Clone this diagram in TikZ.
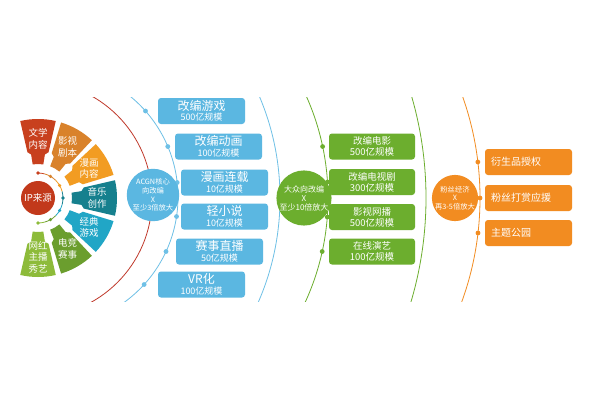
\documentclass[tikz,border=0pt]{standalone}
\usepackage{fontspec}
\setmainfont{Noto Sans CJK SC}
\usetikzlibrary{calc}
\definecolor{ipred}{HTML}{C2391B}
\definecolor{pa}{HTML}{C8401E}
\definecolor{pb}{HTML}{D9822B}
\definecolor{pc}{HTML}{F29C22}
\definecolor{pd}{HTML}{16808E}
\definecolor{pe}{HTML}{21A6C6}
\definecolor{pf}{HTML}{6B9E2E}
\definecolor{pg}{HTML}{8DBB3A}
\definecolor{bblue}{HTML}{5BB7E1}
\definecolor{lblue}{HTML}{6EC0E6}
\definecolor{bgreen}{HTML}{6CAE2E}
\definecolor{borange}{HTML}{F28C21}
\definecolor{lred}{HTML}{C0392B}
\begin{document}
\begin{tikzpicture}[x=1pt,y=-1pt,
  boxbase/.style={rounded corners=3pt, minimum width=87pt, minimum height=26pt, inner sep=0pt, text=white, align=center},
  bluebox/.style={boxbase, fill=bblue},
  greenbox/.style={boxbase, fill=bgreen, minimum width=86pt},
  orangebox/.style={boxbase, fill=borange, text width=75pt, align=left, inner xsep=6pt,
    font=\fontsize{10}{12}\selectfont},
  hub/.style={circle, inner sep=0pt, text=white, align=center},
  petaltext/.style={text=white, align=center, font=\fontsize{9.5}{11.5}\selectfont},
  ring/.style={line width=0.8pt}]
\useasboundingbox (0,0) rectangle (597,400);
\fill[white] (0,0) rectangle (597,400);
% rings
\begin{scope}
\clip (60,97) rectangle (597,301);
\draw[ring, lred] (34,199) circle[radius=118];
\draw[ring, lblue] (48,197) circle[radius=130];
\draw[ring, lblue] (20,198) circle[radius=260];
\draw[ring, bgreen] (79,198) circle[radius=249];
\draw[ring, bgreen] (62,198) circle[radius=364];
\draw[ring, borange] (177,198) circle[radius=303];
\end{scope}
% dots on the rings
\newcommand\ringdot[5]{\fill[#5] ({#1+#3*sqrt(1-((#4-#2)/#3)^2)},#4) circle[radius=2.4];}
\foreach \yy in {111,146.5,182.5,216.5,251.5,284.5} {\ringdot{48}{197}{130}{\yy}{lblue}}
\foreach \yy in {146.5,182,217,251.5} {\ringdot{79}{198}{249}{\yy}{bgreen}}
\foreach \yy in {162,198,233} {\ringdot{177}{198}{303}{\yy}{borange}}
% petals
\coordinate (ipc) at (38,198);
\foreach \a/\c/\t [count=\i] in {-90/pa/{文学\\内容}, -60/pb/{影视\\剧本}, -30/pc/{漫画\\内容}, 0/pd/{音乐\\创作}, 30/pe/{经典\\游戏}, 60/pf/{电竞\\赛事}, 90/pg/{网红\\主播\\秀艺}} {
  \fill[\c] ($(ipc)+({\a-9}:34)$) -- ($(ipc)+({\a-9}:44)$) -- ($(ipc)+({\a-13}:47)$) -- ($(ipc)+({\a-13}:79)$)
     arc[start angle={\a-13}, end angle={\a+13}, radius=79] -- ($(ipc)+({\a+13}:47)$) -- ($(ipc)+({\a+9}:44)$)
     -- ($(ipc)+({\a+9}:34)$) arc[start angle={\a+9}, end angle={\a-9}, radius=34] -- cycle;
  \node[petaltext] (p\i) at ($(ipc)+(\a:59)$) {\t};
}
% small dotted arc
\foreach \s/\e/\c in {-90/-75/pa, -75/-45/pb, -45/-15/pc, -15/15/pd, 15/45/pe, 45/75/pf, 75/90/pg} {
  \draw[\c, line width=0.8pt] ($(ipc)+(\s:25)$) arc[start angle=\s, end angle=\e, radius=25];
}
\foreach \a/\c in {-90/pa, -60/pb, -30/pc, 0/pd, 30/pe, 60/pf, 90/pg} {
  \fill[\c] ($(ipc)+(\a:25)$) circle[radius=1.8];
}
\node[hub, fill=ipred, minimum size=34pt, font=\fontsize{9.5}{11}\selectfont] (ip) at (ipc) {IP来源};
% ACGN
\node[hub, fill=bblue, minimum size=50pt, font=\fontsize{7.3}{8.8}\selectfont] (acgn) at (153,195) {ACGN核心\\向改编\\X\\至少3倍放大};
\newcommand\bt[2]{{\fontsize{12}{13}\selectfont #1}\\[-1.5pt]{\fontsize{9}{10}\selectfont #2}}
\node[bluebox] (b1) at (201.5,111) {\bt{改编游戏}{500亿规模}};
\node[bluebox] (b2) at (218.5,146.5) {\bt{改编动画}{100亿规模}};
\node[bluebox] (b3) at (224.5,182.5) {\bt{漫画连载}{10亿规模}};
\node[bluebox] (b4) at (224.5,216.5) {\bt{轻小说}{10亿规模}};
\node[bluebox] (b5) at (219.5,251.5) {\bt{赛事直播}{50亿规模}};
\node[bluebox] (b6) at (201.5,284.5) {\bt{VR化}{100亿规模}};
% green
\node[hub, fill=bgreen, minimum size=52pt, font=\fontsize{8}{9}\selectfont] (mass) at (304,198) {大众向改编\\X\\至少10倍放大};
\newcommand\gt[2]{{\fontsize{9.5}{11}\selectfont #1}\\[-1pt]{\fontsize{9.5}{11}\selectfont #2}}
\node[greenbox] (g1) at (372,146.5) {\gt{改编电影}{500亿规模}};
\node[greenbox] (g2) at (372,182) {\gt{改编电视剧}{300亿规模}};
\node[greenbox] (g3) at (372,217) {\gt{影视网播}{500亿规模}};
\node[greenbox] (g4) at (372,251.5) {\gt{在线演艺}{100亿规模}};
% orange
\node[hub, fill=borange, minimum size=46pt, font=\fontsize{7.3}{8.3}\selectfont] (fan) at (455,198) {粉丝经济\\X\\再3-5倍放大};
\node[orangebox] (o1) at (528.5,162) {衍生品授权};
\node[orangebox] (o2) at (528.5,198) {粉丝打赏应援};
\node[orangebox] (o3) at (528.5,233) {主题公园};
\end{tikzpicture}
\end{document}
